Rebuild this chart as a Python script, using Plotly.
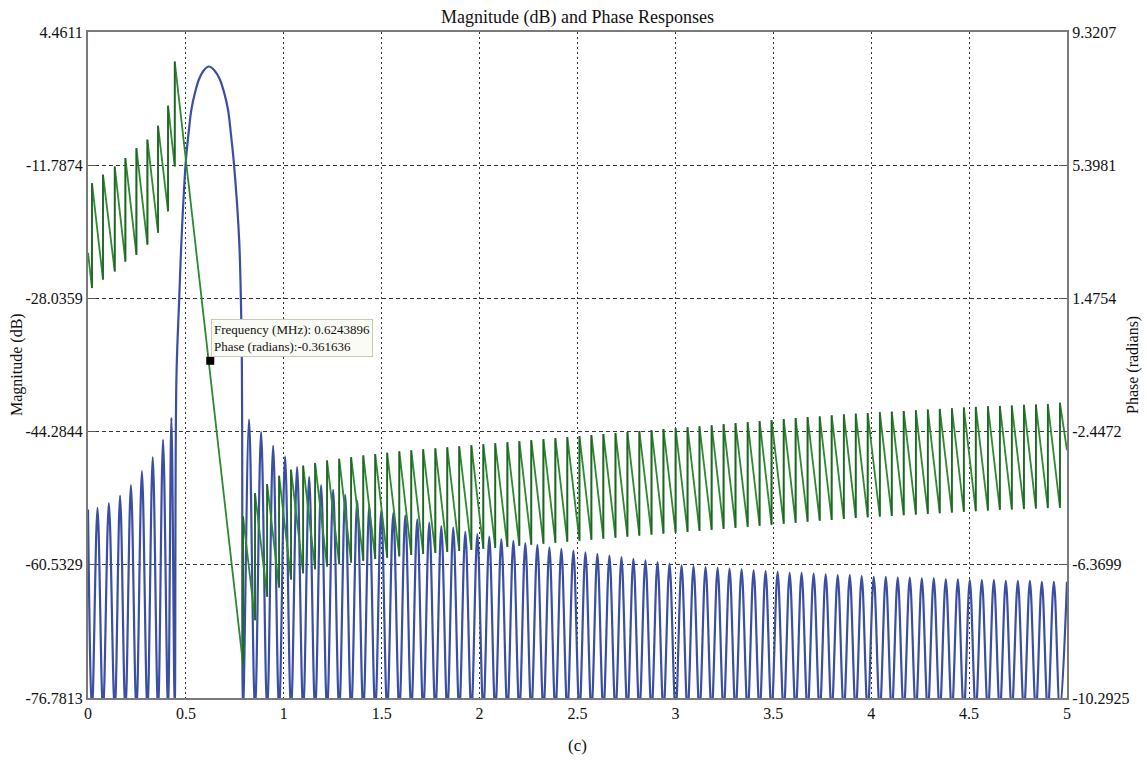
import plotly.graph_objects as go

# ---------------- values ----------------
# Magnitude response (dB)
mag_start_mhz = 0.0
mag_start_db = -53.8
left_null_mhz = [0.0204, 0.0766, 0.1365, 0.191, 0.2473, 0.3035, 0.3577, 0.4088, 0.443]
left_peak_db = [-53.6, -53.0, -52.1, -50.8, -49.1, -47.4, -45.3, -42.6]
main_lobe_mhz = [0.4515, 0.466, 0.4775, 0.499, 0.514, 0.528, 0.547, 0.567, 0.592, 0.618,
                 0.645, 0.673, 0.695, 0.715, 0.730, 0.745, 0.772, 0.785]
main_lobe_db = [-37.9, -28.0, -20.9, -11.5, -7.8, -5.0, -2.9, -1.3, -0.2, 0.25,
                -0.2, -1.3, -2.9, -5.0, -8.0, -11.5, -20.9, -34.0]
stop_null_mhz = [0.792, 0.853, 0.915, 0.976, 1.037, 1.099, 1.160, 1.221, 1.283, 1.344,
                 1.406, 1.467, 1.528, 1.590, 1.651, 1.712, 1.774, 1.835, 1.896, 1.958,
                 2.019, 2.080, 2.142, 2.203, 2.264, 2.326, 2.387, 2.448, 2.510, 2.571,
                 2.632, 2.694, 2.755, 2.816, 2.878, 2.939, 3.001, 3.062, 3.123, 3.185,
                 3.246, 3.307, 3.369, 3.430, 3.491, 3.553, 3.614, 3.675, 3.737, 3.798,
                 3.860, 3.921, 3.982, 4.044, 4.105, 4.166, 4.228, 4.289, 4.350, 4.412,
                 4.473, 4.534, 4.596, 4.657, 4.718, 4.780, 4.841, 4.902, 4.964]
stop_peak_db = [-42.8, -44.3, -46.0, -47.3, -48.6, -49.8, -50.8, -51.4, -52.0, -52.7,
                -53.3, -53.9, -54.2, -54.5, -55.0, -55.4, -55.8, -56.0, -56.5, -56.8,
                -57.1, -57.4, -57.6, -57.9, -58.1, -58.4, -58.6, -58.8, -59.0, -59.2,
                -59.4, -59.6, -59.8, -60.0, -60.2, -60.4, -60.6, -60.7, -60.8, -60.9,
                -61.0, -61.1, -61.2, -61.3, -61.4, -61.5, -61.5, -61.6, -61.7, -61.8,
                -61.8, -61.9, -62.0, -62.0, -62.1, -62.1, -62.2, -62.2, -62.3, -62.3,
                -62.4, -62.4, -62.4, -62.5, -62.5, -62.5, -62.6, -62.6, -62.6]
mag_end_mhz = 5.0
null_floor_db = -78.5   # the nulls drop just below the plotted floor

# Phase response (radians): value just before / just after each jump
phase_start_rad = 2.82
left_phase_low = [1.78, 2.03, 2.27, 2.56, 2.76, 3.06, 3.41, 4.04, 5.36]
left_phase_high = [4.87, 5.12, 5.36, 5.61, 5.90, 6.15, 6.56, 7.15, 8.45]
stop_phase_low = [-9.31, -8.00, -7.31, -7.04, -6.80, -6.62, -6.50, -6.42, -6.35, -6.30,
                  -6.25, -6.20, -6.16, -6.12, -6.08, -6.05, -6.02, -5.99, -5.96, -5.93,
                  -5.90, -5.87, -5.84, -5.81, -5.78, -5.75, -5.72, -5.69, -5.66, -5.63,
                  -5.60, -5.57, -5.54, -5.51, -5.48, -5.45, -5.42, -5.40, -5.37, -5.34,
                  -5.31, -5.28, -5.25, -5.22, -5.19, -5.16, -5.13, -5.10, -5.07, -5.05,
                  -5.02, -4.99, -4.97, -4.95, -4.93, -4.91, -4.89, -4.87, -4.85, -4.83,
                  -4.81, -4.79, -4.77, -4.75, -4.74, -4.73, -4.71, -4.70, -4.69]
stop_phase_high = [-4.95, -4.26, -3.99, -3.75, -3.57, -3.45, -3.37, -3.30, -3.25, -3.20,
                   -3.15, -3.11, -3.07, -3.03, -3.00, -2.97, -2.94, -2.91, -2.88, -2.85,
                   -2.82, -2.79, -2.76, -2.73, -2.70, -2.67, -2.64, -2.61, -2.58, -2.55,
                   -2.52, -2.49, -2.46, -2.43, -2.40, -2.37, -2.35, -2.32, -2.29, -2.26,
                   -2.23, -2.20, -2.17, -2.14, -2.11, -2.08, -2.05, -2.02, -2.00, -1.97,
                   -1.94, -1.92, -1.90, -1.88, -1.86, -1.84, -1.82, -1.80, -1.78, -1.76,
                   -1.74, -1.72, -1.70, -1.69, -1.68, -1.66, -1.65, -1.64, -1.60]
phase_end_rad = -3.0

cursor_mhz = 0.6243896
cursor_rad = -0.361636

mag_ticks = [4.4611, -11.7874, -28.0359, -44.2844, -60.5329, -76.7813]
phase_ticks = [9.3207, 5.3981, 1.4754, -2.4472, -6.3699, -10.2925]
freq_ticks = [0, 0.5, 1, 1.5, 2, 2.5, 3, 3.5, 4, 4.5, 5]
freq_labels = ["0", "0.5", "1", "1.5", "2", "2.5", "3", "3.5", "4", "4.5", "5"]

# ---------------- build the traces from the arrays ----------------
mx = [mag_start_mhz]
my = [mag_start_db]
for i, n in enumerate(left_null_mhz):
    mx.append(n); my.append(null_floor_db)
    if i < len(left_peak_db):
        mx.append((n + left_null_mhz[i + 1]) / 2); my.append(left_peak_db[i])
mx += main_lobe_mhz
my += main_lobe_db
for k, n in enumerate(stop_null_mhz):
    mx.append(n); my.append(null_floor_db)
    if k + 1 < len(stop_null_mhz):
        mx.append((n + stop_null_mhz[k + 1]) / 2)
    else:
        mx.append(mag_end_mhz)
    my.append(stop_peak_db[k])

px = [0.0]
py = [phase_start_rad]
jx, jy = [], []
for n, lo, hi in zip(left_null_mhz + stop_null_mhz,
                     left_phase_low + stop_phase_low,
                     left_phase_high + stop_phase_high):
    px += [n, n]; py += [lo, hi]
    jx += [n, n, None]; jy += [lo, hi, None]
px.append(mag_end_mhz); py.append(phase_end_rad)

SERIF = "Liberation Serif, Times New Roman, serif"
BLUE = "#3a4fa3"
GREEN = "#2c8a2e"
DARK_GREEN = "#24612a"

fig = go.Figure()
fig.add_trace(go.Scatter(x=mx, y=my, mode="lines",
                         line=dict(color=BLUE, width=2.2, shape="spline", smoothing=1.0),
                         hoverinfo="skip", showlegend=False))
fig.add_trace(go.Scatter(x=px, y=py, mode="lines", yaxis="y2",
                         line=dict(color=GREEN, width=1.8),
                         hoverinfo="skip", showlegend=False))
fig.add_trace(go.Scatter(x=jx, y=jy, mode="lines", yaxis="y2",
                         line=dict(color=DARK_GREEN, width=1.6),
                         hoverinfo="skip", showlegend=False))
fig.add_trace(go.Scatter(x=[cursor_mhz], y=[cursor_rad], mode="markers", yaxis="y2",
                         marker=dict(symbol="square", size=8, color="black"),
                         hoverinfo="skip", showlegend=False))

fig.update_layout(
    width=1147, height=762,
    margin=dict(l=88, r=80, t=32, b=64),
    paper_bgcolor="white", plot_bgcolor="white",
    font=dict(family=SERIF, size=16, color="#111"),
    xaxis=dict(range=[0, 5], tickvals=freq_ticks, ticktext=freq_labels,
               showgrid=True, gridcolor="#333", gridwidth=1, griddash="2px,3px",
               showline=True, mirror=True, linecolor="#7a7a7a", linewidth=2,
               ticks="", zeroline=False, tickfont=dict(size=16)),
    yaxis=dict(range=[-76.7813, 4.4611], tickvals=mag_ticks,
               ticktext=["%g" % v for v in mag_ticks],
               showgrid=True, gridcolor="#333", gridwidth=1, griddash="4px,3px",
               showline=True, mirror=True, linecolor="#7a7a7a", linewidth=2,
               ticks="inside", ticklen=8, tickcolor="#555", zeroline=False,
               tickfont=dict(size=16)),
    yaxis2=dict(range=[-10.2925, 9.3207], tickvals=phase_ticks,
                ticktext=["%g" % v for v in phase_ticks],
                overlaying="y", side="right", showgrid=False, zeroline=False,
                ticks="inside", ticklen=8, tickcolor="#555",
                showline=True, linecolor="#7a7a7a", linewidth=2,
                tickfont=dict(size=16)),
    annotations=[
        dict(text="Magnitude (dB) and Phase Responses", xref="paper", yref="paper",
             x=0.5, y=1, yshift=15, showarrow=False, font=dict(size=18),
             xanchor="center", yanchor="middle"),
        dict(text="Magnitude (dB)", xref="paper", yref="paper", x=0, xshift=-71,
             y=0.5, textangle=-90, showarrow=False, font=dict(size=16),
             xanchor="center", yanchor="middle"),
        dict(text="Phase (radians)", xref="paper", yref="paper", x=1, xshift=66,
             y=0.5, textangle=-90, showarrow=False, font=dict(size=16),
             xanchor="center", yanchor="middle"),
        dict(text="(c)", xref="paper", yref="paper", x=0.5, y=0, yshift=-47,
             showarrow=False, font=dict(size=17), xanchor="center", yanchor="middle"),
        dict(text="Frequency (MHz): %s<br>Phase (radians):%s" % (cursor_mhz, cursor_rad),
             xref="x", yref="y2", x=cursor_mhz, y=cursor_rad, xshift=1, yshift=4,
             showarrow=False, xanchor="left", yanchor="bottom", align="left",
             font=dict(size=13, color="#111"), bgcolor="#fbfbf6",
             bordercolor="#c9c9b4", borderwidth=1, borderpad=2),
    ],
)

fig.write_html("out.html")
